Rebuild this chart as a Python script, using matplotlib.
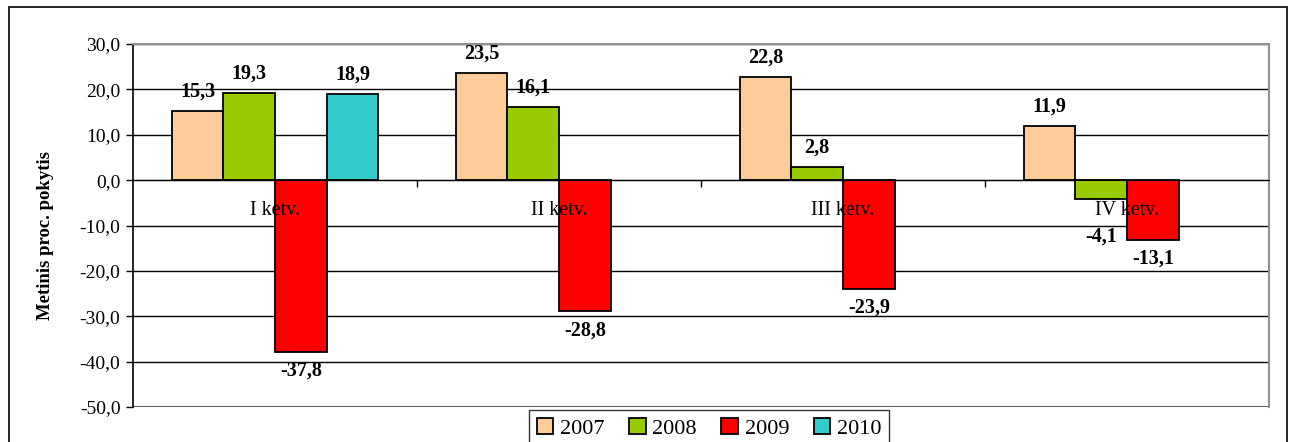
import matplotlib
matplotlib.use("Agg")
import matplotlib.pyplot as plt
from matplotlib.patches import Rectangle
import numpy as np

plt.rcParams.update({
    'font.family': ['Liberation Serif', 'DejaVu Serif'],
    'font.size': 13,
})

# ── Data ────────────────────────────────────────────────────────────────
quarters = ['I ketv.', 'II ketv.', 'III ketv.', 'IV ketv.']
years = ['2007', '2008', '2009', '2010']
v2007 = [15.3, 23.5, 22.8, 11.9]
v2008 = [19.3, 16.1, 2.8, -4.1]
v2009 = [-37.8, -28.8, -23.9, -13.1]
v2010 = [18.9, np.nan, np.nan, np.nan]
series = [v2007, v2008, v2009, v2010]
colors = ['#FFCC99', '#99CC00', '#FF0000', '#33CCCC']

W, H = 1295, 442
fig = plt.figure(figsize=(W / 100, H / 100), dpi=100)

# outer chart border (bottom runs off the picture)
fig.patches.append(Rectangle((9 / W, -0.1), (1287 - 9) / W, 1 - 7 / H + 0.1,
                             transform=fig.transFigure, fc='none',
                             ec='black', lw=1.2, zorder=0))

ax = fig.add_axes([133 / W, 1 - 407 / H, (1269 - 133) / W, (407 - 44) / H])

x = np.arange(len(quarters))
bw = 1 / 5.5
for j, (vals, c, yr) in enumerate(zip(series, colors, years)):
    pos = x + (j - 1.5) * bw
    ax.bar(pos, vals, width=bw, color=c, edgecolor='black',
           lw=1.3, label=yr, zorder=3)
    for p, v in zip(pos, vals):
        if np.isnan(v):
            continue
        if v >= 0:
            off = 14
        elif v > -8:
            off = -27   # keep clear of the category label
        else:
            off = -14
        ax.annotate(f'{v:.1f}'.replace('.', ','), (p, v),
                    xytext=(0, off), textcoords='offset points',
                    ha='center', va='center', fontsize=14.5,
                    fontweight='bold', zorder=5)

ax.set_xlim(-0.5, len(quarters) - 0.5)
ax.set_ylim(-50, 30)
ticks = np.arange(-50, 31, 10)
ax.set_yticks(ticks)
ax.set_yticklabels([f'{t:.1f}'.replace('.', ',') for t in ticks])
ax.yaxis.grid(True, color='black', lw=1.0, zorder=1)
ax.tick_params(axis='y', length=5, width=1, labelsize=14, pad=4)

# category axis on the zero line
ax.spines['bottom'].set_position(('data', 0))
ax.spines['bottom'].set_color('black')
ax.spines['bottom'].set_zorder(4)
ax.set_xticks(np.arange(0.5, len(quarters) - 0.5, 1))
ax.set_xticklabels([])
ax.tick_params(axis='x', length=5, width=1, direction='out')
for i, q in enumerate(quarters):
    ax.annotate(q, (i, 0), xytext=(0, -22), textcoords='offset points',
                ha='center', va='center', fontsize=14.5, zorder=6)

ax.spines['left'].set_color('black')
ax.spines['left'].set_linewidth(1.2)
for s in ['top', 'right']:
    ax.spines[s].set_color('#909090')
    ax.spines[s].set_linewidth(1.5)
ax.axhline(-50, color='#606060', lw=1.5, zorder=2)

fig.text(46 / W, 1 - 235 / H, 'Metinis proc. pokytis', rotation=90,
         ha='center', va='center', fontsize=13.5, fontweight='bold')

leg = fig.legend(loc='upper center', bbox_to_anchor=(709 / W, 1 - 410 / H),
                 ncol=4, frameon=True, fancybox=False, fontsize=16,
                 handlelength=0.75, handleheight=0.75, handletextpad=0.3,
                 columnspacing=1.1, borderpad=0.35, borderaxespad=0)
leg.get_frame().set_edgecolor('black')
leg.get_frame().set_linewidth(1.0)

fig.savefig('out.png', dpi=100, facecolor='white')
